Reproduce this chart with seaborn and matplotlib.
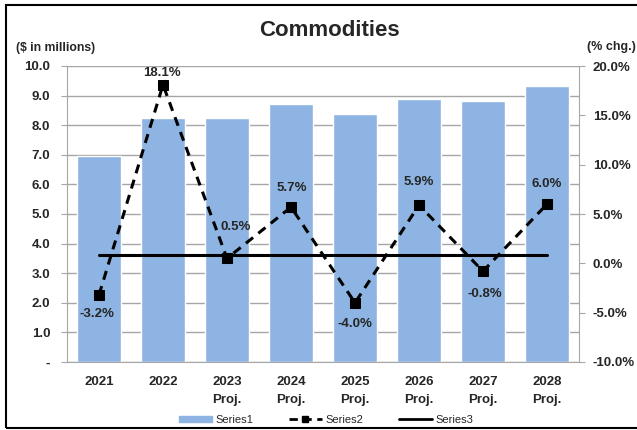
import numpy as np
import pandas as pd
import matplotlib
matplotlib.use("Agg")
import matplotlib.pyplot as plt
import matplotlib.ticker as mticker
from matplotlib.patches import Rectangle
from matplotlib.lines import Line2D
import seaborn as sns

# data
categories = ["2021", "2022", "2023\nProj.", "2024\nProj.", "2025\nProj.",
              "2026\nProj.", "2027\nProj.", "2028\nProj."]
series1 = [6.95, 8.24, 8.26, 8.73, 8.38, 8.87, 8.82, 9.33]
series2 = [-3.2, 18.1, 0.5, 5.7, -4.0, 5.9, -0.8, 6.0]
series3 = [0.8, 0.8, 0.8, 0.8, 0.8, 0.8, 0.8, 0.8]
label_offsets = [(-2, -19), (-1, 12), (9, 31), (1, 19), (0, -21), (0, 23), (2, -23), (0, 20)]

sns.set_style("white")
plt.rcParams['font.family'] = ['Liberation Sans', 'DejaVu Sans']

bar_col = "#8DB4E2"
grid_col = "#A6A6A6"

df = pd.DataFrame({"cat": categories, "s1": series1, "s2": series2,
                   "s3": series3, "pos": np.arange(len(categories))})

fig = plt.figure(figsize=(6.37, 4.30), dpi=100)
ax = fig.add_axes([67/637, 1-362/430, (579-67)/637, (362-66)/430])

sns.barplot(data=df, x="cat", y="s1", color=bar_col, width=0.68, saturation=1,
            ax=ax, zorder=2)
ax.set_ylim(0, 10)
ax.set_xlim(-0.5, len(categories) - 0.5)
ax.set_yticks(np.arange(0, 10.5, 1))
ax.yaxis.set_major_formatter(mticker.FuncFormatter(lambda v, p: "-" if abs(v) < 1e-9 else f"{v:.1f}"))
ax.grid(axis="y", color=grid_col, linewidth=1.0, zorder=0)
ax.set_axisbelow(True)
ax.set_xlabel("")
ax.set_ylabel("")
for s in ["left", "bottom"]:
    ax.spines[s].set_color(grid_col)
for s in ["top", "right"]:
    ax.spines[s].set_visible(False)
ax.tick_params(axis="y", length=4, color=grid_col, pad=8, labelsize=9.5)
ax.tick_params(axis="x", which="major", length=0, pad=10, labelsize=9.5)
ax.set_xticks(np.arange(-0.5, len(categories), 1), minor=True)
ax.tick_params(axis="x", which="minor", length=4, color=grid_col)
for lab in ax.get_xticklabels() + ax.get_yticklabels():
    lab.set_fontweight("bold")
    lab.set_linespacing(1.7)

ax2 = ax.twinx()
sns.lineplot(data=df, x="pos", y="s2", sort=False, color="black", linewidth=2.2,
             linestyle=(0, (3, 2.2)), marker="s", markersize=7, markeredgecolor="black",
             ax=ax2, zorder=4)
sns.lineplot(data=df, x="pos", y="s3", sort=False, color="black", linewidth=2.2,
             ax=ax2, zorder=3)
ax2.set_ylim(-10, 20)
ax2.set_yticks(np.arange(-10, 20.5, 5))
ax2.yaxis.set_major_formatter(mticker.FuncFormatter(lambda v, p: f"{v:.1f}%"))
ax2.set_xlabel("")
ax2.set_ylabel("")
for s in ["top", "left", "bottom"]:
    ax2.spines[s].set_visible(False)
ax2.spines["right"].set_color(grid_col)
ax2.tick_params(axis="y", length=4, color=grid_col, pad=6, labelsize=9.5)
for lab in ax2.get_yticklabels():
    lab.set_fontweight("bold")

for x, y, (dx, dy) in zip(df["pos"], series2, label_offsets):
    ax2.annotate(f"{y:.1f}%", (x, y), xytext=(dx, dy), textcoords="offset pixels",
                 ha="center", va="center", fontsize=9.5, fontweight="bold")

fig.text(329/637, 1-30/430, "Commodities", ha="center", va="center",
         fontsize=16, fontweight="bold")
fig.text(16/637, 1-48/430, "($ in millions)", ha="left", va="center",
         fontsize=8.8, fontweight="bold")
fig.text(636/637, 1-47/430, "(% chg.)", ha="right", va="center",
         fontsize=9, fontweight="bold")

handles = [Rectangle((0, 0), 1, 1, color=bar_col),
           Line2D([], [], color="black", linewidth=2, linestyle=(0, (3, 2)),
                  marker="s", markersize=5),
           Line2D([], [], color="black", linewidth=2)]
fig.legend(handles, ["Series1", "Series2", "Series3"], loc="center",
           bbox_to_anchor=(326/637, 1-420/430), ncol=3, frameon=False,
           fontsize=8, handlelength=3.0, handleheight=0.5, columnspacing=3.2,
           handletextpad=0.3)

fig.patches.append(Rectangle((6/637, 2/430), 1.0, 1-7/430, transform=fig.transFigure,
                             fill=False, edgecolor="black", linewidth=1.5))

fig.savefig("out.png", dpi=100)
